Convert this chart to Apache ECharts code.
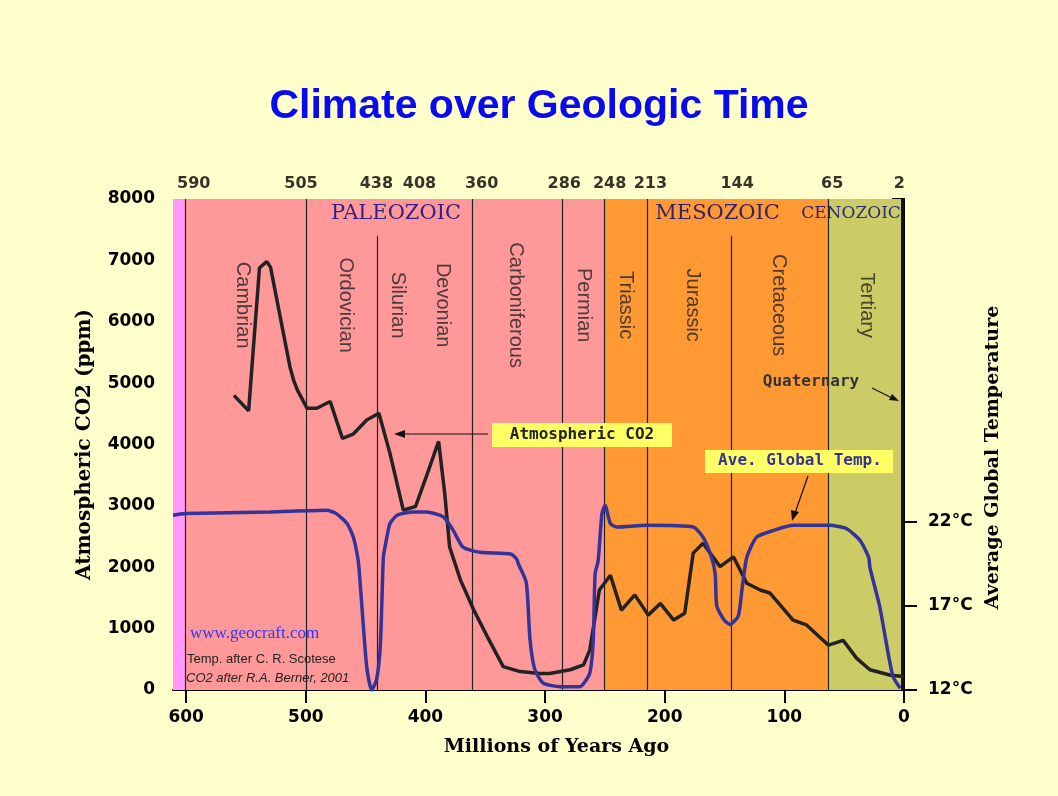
<!DOCTYPE html>
<html>
<head>
<meta charset="utf-8">
<script src="https://cdn.jsdelivr.net/npm/echarts@6/dist/echarts.min.js"></script>
<style>
  html, body { margin: 0; padding: 0; background: #ffffcc; }
  #chart { width: 1058px; height: 796px; }
</style>
</head>
<body>
<div id="chart"></div>
<script>
// CO2 (ppm) against millions of years ago
var co2Years = [560.1, 547.8, 538.7, 532.6, 529.5, 513.2, 510.2, 507.1, 499, 490.8, 479.6, 469.4, 460.3, 449.1, 438.9, 429.7, 418.5, 408.3, 399.2, 389,
  383.9, 379.8, 370.7, 359.5, 348.3, 335, 320.8, 304.5, 296.3, 279, 267.8, 262.7, 258.6, 254.6, 245.4, 236.2, 225, 213.8, 203.7, 192.5,
  183.3, 176.2, 168, 153.8, 142.6, 131.4, 120.2, 112, 92.7, 81.5, 63.1, 50.9, 39.7, 28.5, 11.2, 0];
var co2Values = [4800, 4550, 6880, 6980, 6890, 5260, 5050, 4890, 4590, 4590, 4700, 4100, 4170, 4400, 4510, 3860, 2930, 2990, 3480, 4050,
  3210, 2330, 1790, 1300, 870, 380, 300, 270, 270, 330, 410, 650, 1140, 1630, 1870, 1300, 1550, 1220, 1410, 1140,
  1250, 2230, 2390, 2010, 2170, 1740, 1630, 1580, 1140, 1060, 730, 810, 520, 330, 240, 220];

// average global temperature (deg C)
var tempYears = [611, 600.8, 529.5, 482.7, 474.5, 465.4, 460.3, 456.2, 454.7, 452.1, 449.1, 445, 440.9, 437.9, 436.5, 435.2, 433.8, 429.7, 423.6, 410.4,
  399.2, 384.9, 376.8, 368.6, 354.4, 328.9, 323.8, 322.3, 315.7, 312.6, 308.5, 301.4, 287.2, 270.9, 262.7, 259.7, 258.2, 255.6, 252.5, 249.9,
  245.4, 240.3, 214.9, 176.2, 168, 160.9, 157.8, 156.5, 150.7, 145.6, 138.5, 135.4, 131.4, 123.2, 109, 92.7, 62.1, 47.9, 36.7, 29.5,
  28.5, 20.4, 14.3, 9.2, 3.1];
var tempValues = [22.4, 22.5, 22.6, 22.7, 22.5, 21.9, 21.1, 19.7, 18.5, 16.0, 13.4, 12.0, 12.6, 14.4, 17.0, 19.9, 20.5, 21.9, 22.4, 22.6,
  22.6, 22.3, 21.5, 20.5, 20.2, 20.1, 19.8, 19.5, 18.4, 15.0, 13.2, 12.4, 12.2, 12.2, 13.0, 15.0, 18.9, 19.7, 22.5, 23.0,
  21.9, 21.7, 21.8, 21.7, 21.1, 19.9, 18.9, 17.0, 16.2, 15.9, 16.4, 18.0, 19.9, 21.1, 21.5, 21.8, 21.8, 21.6, 20.9, 19.9,
  19.3, 17.0, 14.6, 12.8, 12.1];

// coloured time bands: [from, to]
var bandFrom = [611, 601, 250.5, 63, 2.5];
var bandTo = [601, 250.5, 63, 2.5, 0];
var bandColors = ['#ff99ff', '#ff9999', '#ff9933', '#cccc66', '#111111'];

// period boundary lines and how high they reach
var dividerAt = [601, 500, 440, 360.5, 286, 250.5, 215, 144.6, 63];
var dividerTop = [8000, 8000, 7400, 8000, 8000, 8000, 8000, 7400, 8000];

// boundary ages printed along the top
var topLabels = ['590', '505', '438', '408', '360', '286', '248', '213', '144', '65', '2'];
var topLabelAt = [593.7, 504, 441, 405, 353, 284, 246, 212, 139.5, 60, 4];

// period names
var periodNames = ['Cambrian', 'Ordovician', 'Silurian', 'Devonian', 'Carboniferous', 'Permian',
  'Triassic', 'Jurassic', 'Cretaceous', 'Tertiary'];
var periodAt = [553, 467, 423.6, 386, 325, 268, 233, 177, 105, 31.6];
var periodY = 6270;

// eras
var eraNames = ['PALEOZOIC', 'MESOZOIC', 'CENOZOIC'];
var eraAt = [424.6, 155.8, 44.3];
var eraSizes = [21, 21, 17];
var eraY = 7770;

var xTicks = [600, 500, 400, 300, 200, 100, 0];
var tempTicks = [12, 17, 22];

var chart = echarts.init(document.getElementById('chart'));

function pairs(xs, ys) {
  return xs.map(function (x, i) { return [x, ys[i]]; });
}

var tickFont = { color: '#000', fontFamily: 'DejaVu Sans', fontWeight: 'bold', fontSize: 17 };
var nameFont = { color: '#000', fontFamily: 'DejaVu Serif', fontWeight: 'bold' };

var option = {
  backgroundColor: '#ffffcc',
  animation: false,
  title: {
    text: 'Climate over Geologic Time',
    left: 534,
    top: 81,
    textAlign: 'center',
    textStyle: { color: '#0a0af0', fontFamily: 'Liberation Sans', fontWeight: 'bold', fontSize: 41 }
  },
  grid: { left: 173, right: 154, top: 199, bottom: 106 },
  xAxis: {
    type: 'value',
    min: 0,
    max: 611,
    inverse: true,
    name: 'Millions of Years Ago',
    nameLocation: 'middle',
    nameGap: 48,
    nameTextStyle: Object.assign({ fontSize: 19, padding: [0, 0, 0, 36] }, nameFont),
    axisLine: { lineStyle: { color: '#000', width: 2 } },
    axisTick: { length: 13, customValues: xTicks, lineStyle: { color: '#000', width: 2 } },
    axisLabel: Object.assign({ margin: 19, customValues: xTicks }, tickFont),
    splitLine: { show: false }
  },
  yAxis: [
    {
      type: 'value',
      min: 0,
      max: 8000,
      interval: 1000,
      name: 'Atmospheric CO2 (ppm)',
      nameLocation: 'middle',
      nameGap: 78,
      nameTextStyle: Object.assign({ fontSize: 20 }, nameFont),
      axisLine: { show: true, lineStyle: { color: '#000', width: 2 } },
      axisTick: { show: true, length: 12, lineStyle: { color: '#000', width: 2 } },
      axisLabel: Object.assign({ margin: 18, formatter: function (v) { return String(v); } }, tickFont),
      splitLine: { show: false }
    },
    {
      type: 'value',
      position: 'right',
      min: 12,
      max: 12 + 491 / 16.8,
      name: 'Average Global Temperature',
      nameLocation: 'middle',
      nameGap: 70,
      nameRotate: 90,
      nameTextStyle: Object.assign({ fontSize: 19, padding: [0, 26, 0, 0] }, nameFont),
      axisLine: { show: true, lineStyle: { color: '#000', width: 2 } },
      axisTick: { show: true, length: 13, customValues: tempTicks, lineStyle: { color: '#000', width: 2 } },
      axisLabel: Object.assign({
        margin: 24,
        customValues: tempTicks,
        formatter: function (v) { return v + '°C'; }
      }, tickFont),
      splitLine: { show: false }
    }
  ],
  series: [
    {
      name: 'bands',
      type: 'line',
      data: [],
      z: 1,
      silent: true,
      markArea: {
        silent: true,
        data: bandFrom.map(function (f, i) {
          return [{ xAxis: f, yAxis: 0, itemStyle: { color: bandColors[i] } }, { xAxis: bandTo[i], yAxis: 8000 }];
        })
      },
      markLine: {
        silent: true,
        symbol: 'none',
        label: { show: false },
        lineStyle: { color: '#222', width: 1.2, type: 'solid' },
        data: dividerAt.map(function (x, i) {
          return [{ coord: [x, 0] }, { coord: [x, dividerTop[i]] }];
        })
      }
    },
    {
      name: 'Atmospheric CO2',
      type: 'line',
      yAxisIndex: 0,
      data: pairs(co2Years, co2Values),
      showSymbol: false,
      z: 5,
      lineStyle: { color: '#222', width: 3.5 }
    },
    {
      name: 'Ave. Global Temp.',
      type: 'line',
      yAxisIndex: 1,
      data: pairs(tempYears, tempValues),
      showSymbol: false,
      smooth: 0.2,
      z: 6,
      lineStyle: { color: '#333399', width: 3.5 }
    },
    {
      name: 'top labels',
      type: 'scatter',
      data: topLabelAt.map(function (x, i) { return [x, 8000, topLabels[i]]; }),
      symbolSize: 1,
      itemStyle: { color: 'rgba(0,0,0,0)' },
      silent: true,
      clip: false,
      label: Object.assign({
        show: true,
        position: 'top',
        distance: 7,
        formatter: function (p) { return p.data[2]; }
      }, tickFont, { fontSize: 16 })
    },
    {
      name: 'periods',
      type: 'scatter',
      data: periodAt.map(function (x, i) { return [x, periodY, periodNames[i]]; }),
      symbolSize: 1,
      itemStyle: { color: 'rgba(0,0,0,0)' },
      silent: true,
      z: 3,
      label: {
        show: true,
        position: 'inside',
        rotate: -90,
        formatter: function (p) { return p.data[2]; },
        color: '#222',
        fontFamily: 'Liberation Sans',
        fontSize: 20
      }
    },
    {
      name: 'eras',
      type: 'scatter',
      data: eraAt.map(function (x, i) {
        return { value: [x, eraY], name: eraNames[i], label: { fontSize: eraSizes[i] } };
      }),
      symbolSize: 1,
      itemStyle: { color: 'rgba(0,0,0,0)' },
      silent: true,
      z: 3,
      label: {
        show: true,
        position: 'inside',
        formatter: '{b}',
        color: '#000080',
        fontFamily: 'DejaVu Serif'
      }
    }
  ],
  graphic: [
    // Atmospheric CO2 callout
    { type: 'rect', shape: { x: 492, y: 423, width: 180, height: 24 }, style: { fill: '#ffff66' }, z: 10 },
    { type: 'text', x: 582, y: 435, style: { text: 'Atmospheric CO2', align: 'center', verticalAlign: 'middle',
      fill: '#222', font: 'bold 16px "DejaVu Sans Mono"' }, z: 11 },
    { type: 'line', shape: { x1: 488, y1: 434, x2: 398, y2: 434 }, style: { stroke: '#111', lineWidth: 1.2 }, z: 10 },
    { type: 'polygon', shape: { points: [[394, 434], [405, 430], [405, 438]] }, style: { fill: '#111' }, z: 10 },
    // Ave. Global Temp. callout
    { type: 'rect', shape: { x: 705, y: 450, width: 188, height: 23 }, style: { fill: '#ffff66' }, z: 10 },
    { type: 'text', x: 800, y: 461, style: { text: 'Ave. Global Temp.', align: 'center', verticalAlign: 'middle',
      fill: '#333399', font: 'bold 16px "DejaVu Sans Mono"' }, z: 11 },
    { type: 'line', shape: { x1: 808, y1: 476, x2: 795, y2: 513 }, style: { stroke: '#111', lineWidth: 1.2 }, z: 10 },
    { type: 'polygon', shape: { points: [[792, 521], [799, 512], [791, 510]] }, style: { fill: '#111' }, z: 10 },
    // Quaternary
    { type: 'text', x: 811, y: 382, style: { text: 'Quaternary', align: 'center', verticalAlign: 'middle',
      fill: '#333', font: 'bold 16px "DejaVu Sans Mono"' }, z: 11 },
    { type: 'line', shape: { x1: 872, y1: 388, x2: 892, y2: 398 }, style: { stroke: '#111', lineWidth: 1.2 }, z: 10 },
    { type: 'polygon', shape: { points: [[899, 401], [889, 400], [892, 394]] }, style: { fill: '#111' }, z: 10 },
    // credits
    { type: 'text', x: 190, y: 634, style: { text: 'www.geocraft.com', verticalAlign: 'middle',
      fill: '#3333ff', font: '17px "Liberation Serif"' }, z: 11 },
    { type: 'text', x: 187, y: 659, style: { text: 'Temp. after C. R. Scotese', verticalAlign: 'middle',
      fill: '#222', font: '13px "Liberation Sans"' }, z: 11 },
    { type: 'text', x: 186, y: 678, style: { text: 'CO2 after R.A. Berner, 2001', verticalAlign: 'middle',
      fill: '#222', font: 'italic 13px "Liberation Sans"' }, z: 11 }
  ]
};

chart.setOption(option);
</script>
</body>
</html>
